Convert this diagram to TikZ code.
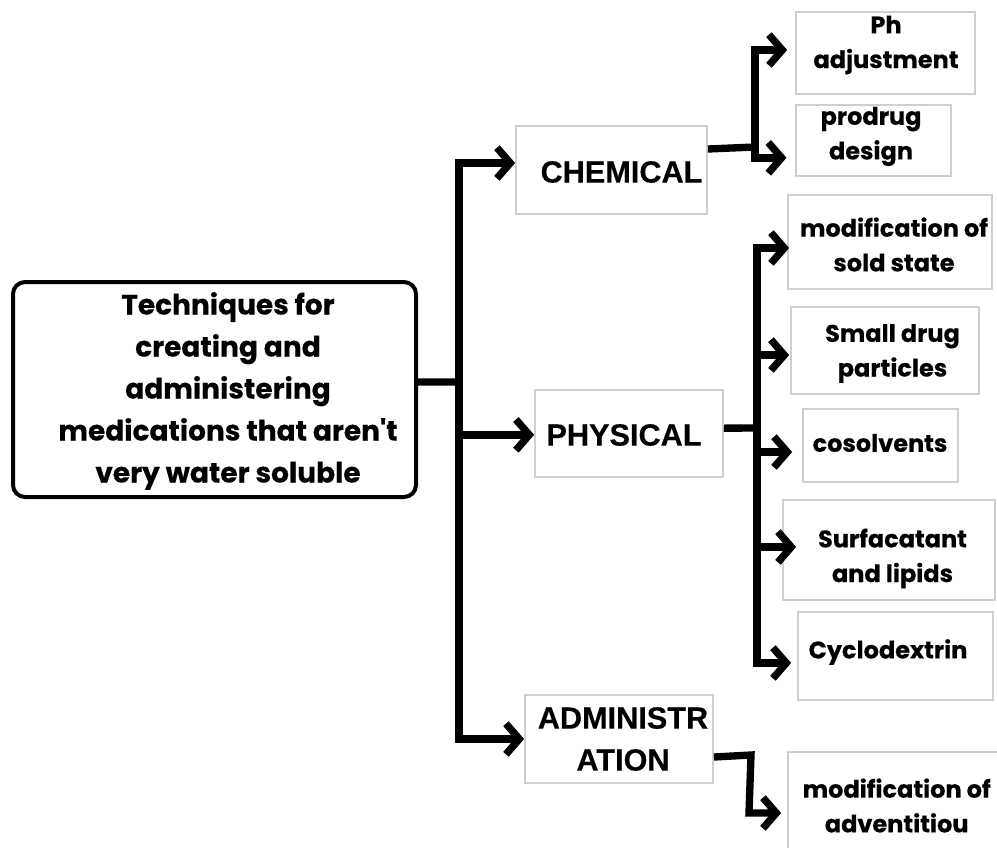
\documentclass[tikz,border=0pt]{standalone}
\usepackage{fontspec}
\usetikzlibrary{arrows.meta}
\newfontfamily\popfont{Poppins}[BoldFeatures={FakeBold=0.35}]
\newfontfamily\arialfont{Liberation Sans}[BoldFeatures={FakeBold=0.3}]
\definecolor{boxgray}{HTML}{CFCFCF}
\begin{document}
\begin{tikzpicture}[x=0.75pt,y=-0.75pt,
  graybox/.style={draw=boxgray, line width=1.3pt, inner sep=0pt},
  mainbox/.style={draw=black, line width=3pt, rounded corners=9pt, inner sep=0pt},
  maintxt/.style={align=center, inner sep=0pt, font=\popfont\bfseries\fontsize{21}{31.5}\selectfont},
  kidtxt/.style={align=center, inner sep=0pt, font=\popfont\bfseries\fontsize{18}{26}\selectfont},
  captxt/.style={align=center, inner sep=0pt, font=\arialfont\bfseries\fontsize{23}{31.5}\selectfont},
  conn/.style={line width=5.5pt},
  arr/.style={conn, -{Straight Barb[length=10pt,width=23pt]}}]
\clip (0,0) rectangle (997,847);
\fill[white] (0,0) rectangle (997,847);

% boxes
\node[mainbox, minimum width=302.25pt, minimum height=161.25pt] (main) at (214.5,389.5) {};
\node[maintxt] (mainT) at (228,391) {Techniques for\\creating and\\administering\\medications that aren't\\very water soluble};

\node[graybox, minimum width=143.25pt, minimum height=66pt] (chem) at (611.5,170) {};
\node[captxt] (chemT) at (621.5,172) {CHEMICAL};
\node[graybox, minimum width=141pt, minimum height=65.25pt] (phys) at (629,433.5) {};
\node[captxt] (physT) at (624,435) {PHYSICAL};
\node[graybox, minimum width=141pt, minimum height=66pt] (adm) at (619,739) {};
\node[captxt] (admT) at (623,739) {ADMINISTR\\ATION};

\node[graybox, minimum width=134.25pt, minimum height=61.5pt] (ph) at (885.5,53) {};
\node[kidtxt] (phT) at (886,45) {Ph\\adjustment};
\node[graybox, minimum width=116.25pt, minimum height=53.25pt] (prod) at (873.5,140.5) {};
\node[kidtxt] (prodT) at (871,136.5) {prodrug\\design};

\node[graybox, minimum width=153pt, minimum height=70.5pt] (msold) at (890,242) {};
\node[kidtxt] (msoldT) at (894,244.5) {modification of\\sold state};
\node[graybox, minimum width=141pt, minimum height=65.25pt] (small) at (885,350.5) {};
\node[kidtxt] (smallT) at (892.5,353.5) {Small drug\\particles};
\node[graybox, minimum width=116.25pt, minimum height=54.75pt] (cos) at (880.5,445.5) {};
\node[kidtxt] (cosT) at (880,443) {cosolvents};
\node[graybox, minimum width=159pt, minimum height=75pt] (surf) at (889,550) {};
\node[kidtxt] (surfT) at (892.5,558.5) {Surfacatant\\and lipids};
\node[graybox, minimum width=146.25pt, minimum height=66pt] (cyc) at (895.5,656) {};
\node[kidtxt] (cycT) at (888,652) {Cyclodextrin};
\node[graybox, minimum width=165pt, minimum height=81pt] (adv) at (898,806) {};
\node[kidtxt] (advT) at (896.7,805.5) {modification of\\adventitiou};

% main spine
\coordinate (j1) at (459,382);
\draw[conn] ([yshift=5.6pt]main.east) -- (j1);
\draw[arr] (j1) |- ([yshift=5.25pt]chem.west);
\draw[arr] (j1) |- ([yshift=-1pt]phys.west);
\draw[arr] (j1) |- (adm.west);

% chemical
\coordinate (j2) at (755,147);
\draw[conn] ([yshift=15.75pt]chem.east) -- (j2);
\draw[arr, shorten >=6pt] (j2) |- ([yshift=2.25pt]ph.west);
\draw[arr, shorten >=6.5pt] (j2) |- ([yshift=-13pt]prod.west);

% physical
\coordinate (j3) at (757,428);
\draw[conn] ([yshift=4pt]phys.east) -- (j3);
\draw[arr, shorten >=-1.5pt] (j3) |- ([yshift=-4.5pt]msold.west);
\draw[arr, shorten >=0.75pt] (j3) |- ([yshift=-3.4pt]small.west);
\draw[arr, shorten >=7.5pt] (j3) |- ([yshift=-4.9pt]cos.west);
\draw[arr, shorten >=-10.5pt] (j3) |- ([yshift=2.25pt]surf.west);
\draw[arr, shorten >=4.5pt] (j3) |- ([yshift=-5.25pt]cyc.west);

% administration
\coordinate (ab1) at (751,755);
\coordinate (ab2) at (749,813);
\draw[arr, shorten >=4.5pt] ([yshift=-13.5pt]adm.east) -- (ab1) -- (ab2) -- ([yshift=-5.25pt]adv.west);
\end{tikzpicture}
\end{document}
